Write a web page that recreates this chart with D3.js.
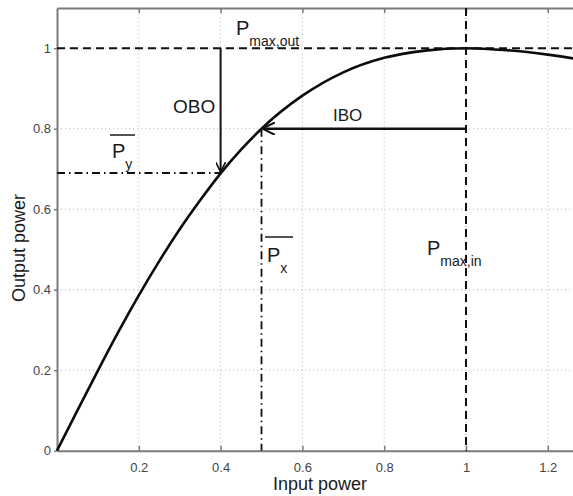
<!DOCTYPE html>
<html>
<head>
<meta charset="utf-8">
<script src="https://cdn.jsdelivr.net/npm/d3@7"></script>
<style>
  body { margin: 0; background: #fff; }
  text { font-family: "Liberation Sans", Arial, sans-serif; }
</style>
</head>
<body>
<svg id="svg"></svg>
<script>
// AM/AM curve of the amplifier
let inputPower  = [0, 0.05, 0.1, 0.15, 0.2, 0.25, 0.3, 0.35, 0.4, 0.45, 0.5, 0.6, 0.7, 0.8, 0.9, 1.0, 1.1, 1.2, 1.3, 1.4];
let outputPower = [0, 0.1, 0.199, 0.295, 0.386, 0.471, 0.55, 0.622, 0.689, 0.748, 0.8, 0.882, 0.94, 0.976, 0.994, 1.0, 0.995, 0.984, 0.968, 0.946];

// operating points
let pMaxIn = 1.0;
let pMaxOut = 1.0;
let pxMean = 0.5;
let pyMean = 0.69;

let xTicks = [0.2, 0.4, 0.6, 0.8, 1.0, 1.2];
let yTicks = [0, 0.2, 0.4, 0.6, 0.8, 1.0];

let width = 573, height = 496;
let x0 = 57, yBottom = 450.7, pxPerX = 409, pxPerY = 402.5;

let svg = d3.select("#svg").attr("width", width).attr("height", height);

let x = d3.scaleLinear().domain([0, 1.4]).range([x0, x0 + 1.4 * pxPerX]);
let y = d3.scaleLinear().domain([0, 1.1]).range([yBottom, yBottom - 1.1 * pxPerY]);

let axisColor = "#7a7a7a";
let gridColor = "#b8b8b8";

// grid
svg.append("g").selectAll("line").data(xTicks).enter().append("line")
   .attr("x1", d => x(d)).attr("x2", d => x(d))
   .attr("y1", y(0)).attr("y2", y(1.1))
   .attr("stroke", gridColor).attr("stroke-width", 1).attr("stroke-dasharray", "1,3");
svg.append("g").selectAll("line").data(yTicks.filter(d => d > 0)).enter().append("line")
   .attr("x1", x(0)).attr("x2", x(1.4))
   .attr("y1", d => y(d)).attr("y2", d => y(d))
   .attr("stroke", gridColor).attr("stroke-width", 1).attr("stroke-dasharray", "1,3");

// axes
let fmt = d => d3.format("~g")(d);
let xAxis = svg.append("g").attr("transform", "translate(0," + y(0) + ")")
   .call(d3.axisBottom(x).tickValues(xTicks).tickSizeInner(-5).tickSizeOuter(0).tickPadding(12).tickFormat(fmt));
let xTop = svg.append("g").attr("transform", "translate(0," + y(1.1) + ")")
   .call(d3.axisTop(x).tickValues(xTicks).tickSizeInner(-5).tickSizeOuter(0).tickFormat(""));
let yAxis = svg.append("g").attr("transform", "translate(" + x(0) + ",0)")
   .call(d3.axisLeft(y).tickValues(yTicks).tickSizeInner(3).tickSizeOuter(0).tickPadding(3).tickFormat(fmt));

[xAxis, xTop, yAxis].forEach(function(g) {
  g.select(".domain").attr("stroke", axisColor).attr("stroke-width", 2);
  g.selectAll(".tick line").attr("stroke", axisColor).attr("stroke-width", 1.5);
  g.selectAll(".tick text").attr("fill", "#444").style("font-size", "13px")
   .style("font-family", "'Liberation Sans', Arial, sans-serif");
});

// arrow marker
svg.append("defs").append("marker")
   .attr("id", "arrow").attr("viewBox", "0 0 10 10")
   .attr("refX", 10).attr("refY", 5)
   .attr("markerWidth", 5).attr("markerHeight", 5)
   .attr("markerUnits", "strokeWidth")
   .attr("orient", "auto")
   .append("path").attr("d", "M0,0 L10,5 L0,10")
   .attr("fill", "none").attr("stroke", "#111").attr("stroke-width", 1.6);

// reference lines
let lineColor = "#111";
svg.append("line")
   .attr("x1", x(0)).attr("x2", x(1.4)).attr("y1", y(pMaxOut)).attr("y2", y(pMaxOut))
   .attr("stroke", lineColor).attr("stroke-width", 2).attr("stroke-dasharray", "8,5");
svg.append("line")
   .attr("x1", x(pMaxIn)).attr("x2", x(pMaxIn)).attr("y1", y(1.1)).attr("y2", y(0))
   .attr("stroke", lineColor).attr("stroke-width", 2).attr("stroke-dasharray", "8,5");
svg.append("line")
   .attr("x1", x(0)).attr("x2", x(0.4)).attr("y1", y(pyMean)).attr("y2", y(pyMean))
   .attr("stroke", lineColor).attr("stroke-width", 1.8).attr("stroke-dasharray", "8,4,1.5,4");
svg.append("line")
   .attr("x1", x(pxMean)).attr("x2", x(pxMean)).attr("y1", y(0.8)).attr("y2", y(0))
   .attr("stroke", lineColor).attr("stroke-width", 1.8).attr("stroke-dasharray", "8,4,1.5,4");

// OBO / IBO arrows
svg.append("line")
   .attr("x1", x(0.4)).attr("x2", x(0.4)).attr("y1", y(pMaxOut)).attr("y2", y(pyMean) - 1)
   .attr("stroke", lineColor).attr("stroke-width", 2).attr("marker-end", "url(#arrow)");
svg.append("line")
   .attr("x1", x(pMaxIn)).attr("x2", x(pxMean) + 1).attr("y1", y(0.8)).attr("y2", y(0.8))
   .attr("stroke", lineColor).attr("stroke-width", 2.5).attr("marker-end", "url(#arrow)");

// transfer curve
let curveData = inputPower.map((v, i) => [v, outputPower[i]]);
svg.append("path").datum(curveData)
   .attr("d", d3.line().x(d => x(d[0])).y(d => y(d[1])).curve(d3.curveMonotoneX))
   .attr("fill", "none").attr("stroke", "#0c0c0c").attr("stroke-width", 2.6);

// annotations
let textColor = "#1a1a1a";
function subLabel(px, py, main, sub, size, subSize) {
  let t = svg.append("text").attr("x", px).attr("y", py).attr("fill", textColor)
             .style("font-size", size + "px");
  t.append("tspan").text(main);
  t.append("tspan").attr("dy", subSize * 0.75).style("font-size", subSize + "px").text(sub);
  return t;
}
subLabel(236, 35, "P", "max,out", 20, 14);
subLabel(427, 255, "P", "max,in", 20, 14);
subLabel(112, 158, "P", "y", 20, 14);
subLabel(267, 262, "P", "x", 20, 14);
// overlines for mean powers
svg.append("line").attr("x1", 110).attr("x2", 135).attr("y1", 135).attr("y2", 135)
   .attr("stroke", textColor).attr("stroke-width", 1.5);
svg.append("line").attr("x1", 265).attr("x2", 293).attr("y1", 237).attr("y2", 237)
   .attr("stroke", textColor).attr("stroke-width", 1.5);

svg.append("text").attr("x", 173).attr("y", 113).attr("fill", textColor)
   .style("font-size", "19px").text("OBO");
svg.append("text").attr("x", 333).attr("y", 121).attr("fill", textColor)
   .style("font-size", "17px").text("IBO");

// axis titles
svg.append("text").attr("x", 320).attr("y", 490).attr("text-anchor", "middle")
   .attr("fill", textColor).style("font-size", "18px").text("Input power");
svg.append("text").attr("transform", "translate(25,248) rotate(-90)").attr("text-anchor", "middle")
   .attr("fill", textColor).style("font-size", "18px").text("Output power");
</script>
</body>
</html>
